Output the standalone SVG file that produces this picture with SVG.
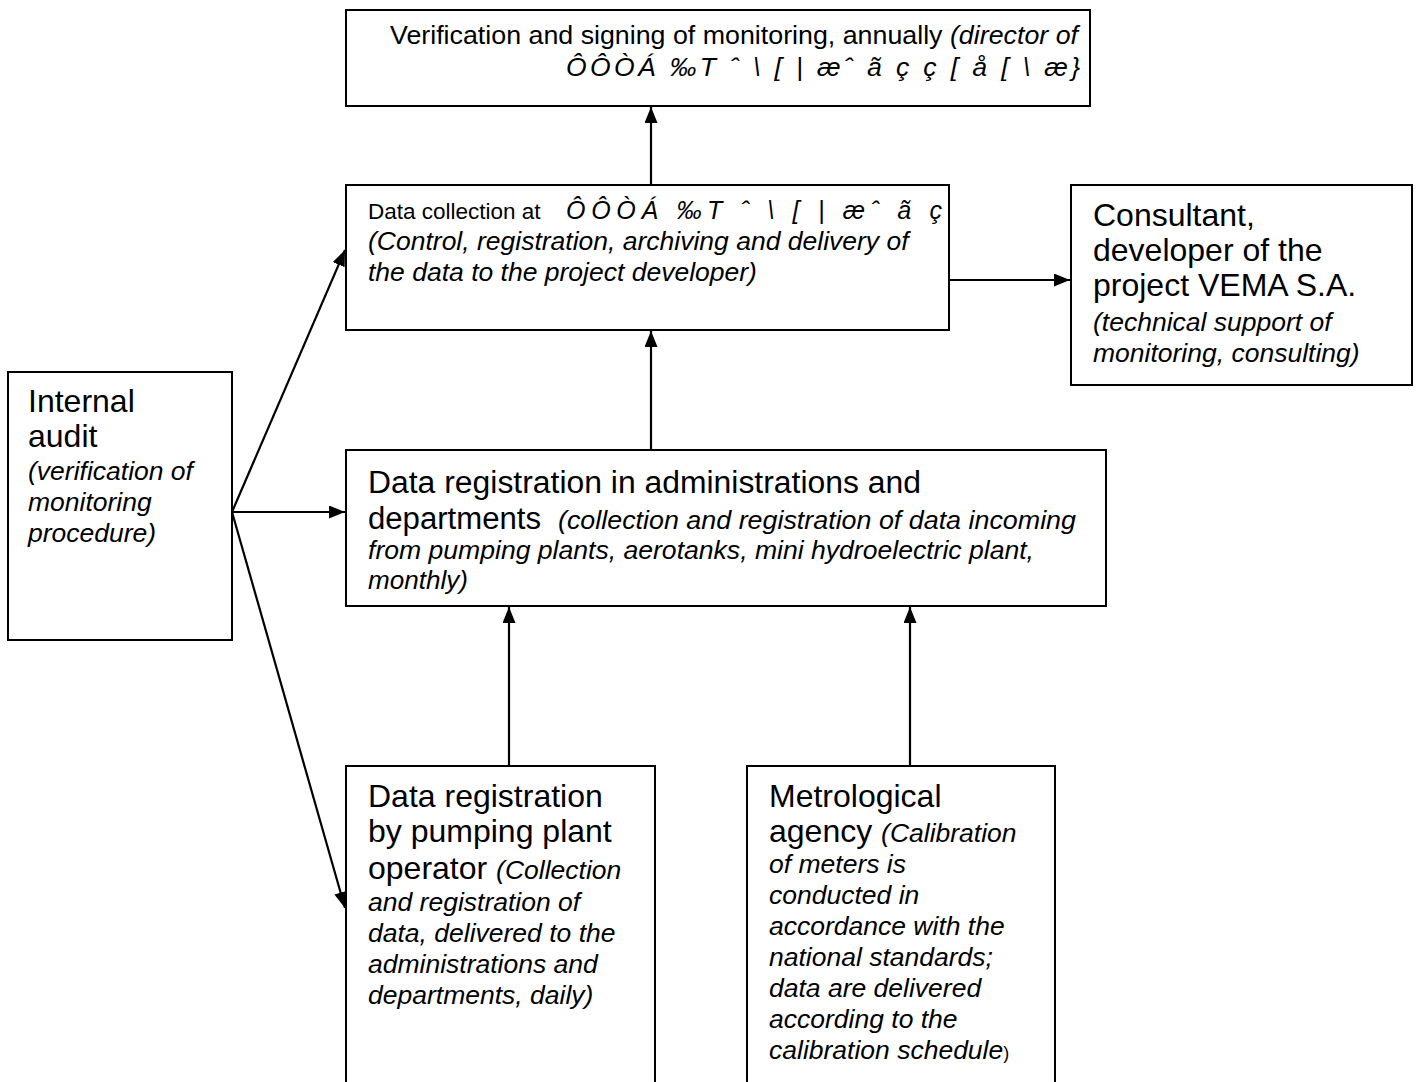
<svg xmlns="http://www.w3.org/2000/svg" width="1417" height="1082" viewBox="0 0 1417 1082">
<style>
.box{fill:#fff;stroke:#000;stroke-width:2}
.t{font-family:"Liberation Sans",Arial,sans-serif;fill:#000}
.n{font-size:26.5px}
.s{font-size:22.5px}
.b{font-size:32px}
.i{font-style:italic}
.c{stroke:#000;stroke-width:2.2;fill:none;marker-end:url(#ah)}
</style>
<defs>
<marker id="ah" viewBox="0 0 16 13" refX="16" refY="6.5" markerWidth="16" markerHeight="13" markerUnits="userSpaceOnUse" orient="auto">
<path d="M0,0 L16,6.5 L0,13 Z" fill="#000"/>
</marker>
</defs>
<rect width="1417" height="1082" fill="#fff"/>
<g id="connectors">
<line class="c" x1="651" y1="185" x2="651" y2="107"/>
<line class="c" x1="651" y1="450" x2="651" y2="331"/>
<line class="c" x1="949" y1="280" x2="1070" y2="280"/>
<line class="c" x1="232" y1="512" x2="345" y2="250"/>
<line class="c" x1="232" y1="512" x2="345" y2="512"/>
<line class="c" x1="232" y1="512" x2="345" y2="908"/>
<line class="c" x1="509" y1="765" x2="509" y2="607"/>
<line class="c" x1="910" y1="765" x2="910" y2="607"/>
</g>
<g id="node-verification">
<rect class="box" x="346" y="10" width="744" height="96"/>
<text class="t n" x="390" y="44" textLength="688" lengthAdjust="spacingAndGlyphs">Verification and signing of monitoring, annually <tspan class="i">(director of</tspan></text>
<text class="t n i" x="566" y="76" textLength="514" lengthAdjust="spacing">ÔÔÒÁ ‰T ˆ \ [ | æˆ ã ç ç [ å [ \ æ}</text>
</g>
<g id="node-data-collection">
<rect class="box" x="346" y="185" width="603" height="145"/>
<text class="t s" x="368" y="219">Data collection at</text>
<text class="t i" font-size="25" x="566" y="219" textLength="376" lengthAdjust="spacing">ÔÔÒÁ ‰T ˆ \ [ | æˆ ã ç</text>
<text class="t n i" x="368" y="250">(Control, registration, archiving and delivery of</text>
<text class="t n i" x="368" y="281">the data to the project developer)</text>
</g>
<g id="node-consultant">
<rect class="box" x="1071" y="185" width="341" height="200"/>
<text class="t b" x="1093" y="226">Consultant,</text>
<text class="t b" x="1093" y="261">developer of the</text>
<text class="t b" x="1093" y="296">project VEMA S.A.</text>
<text class="t n i" x="1093" y="331">(technical support of</text>
<text class="t n i" x="1093" y="362">monitoring, consulting)</text>
</g>
<g id="node-internal-audit">
<rect class="box" x="8" y="372" width="224" height="268"/>
<text class="t b" x="28" y="412">Internal</text>
<text class="t b" x="28" y="447">audit</text>
<text class="t n i" x="28" y="480">(verification of</text>
<text class="t n i" x="28" y="511">monitoring</text>
<text class="t n i" x="28" y="542">procedure)</text>
</g>
<g id="node-data-registration">
<rect class="box" x="346" y="450" width="760" height="156"/>
<text class="t" font-size="31" x="368" y="493" textLength="553" lengthAdjust="spacingAndGlyphs">Data registration in administrations and</text>
<text class="t" font-size="31" x="368" y="529" textLength="173" lengthAdjust="spacingAndGlyphs">departments</text>
<text class="t n i" x="558" y="529" textLength="518" lengthAdjust="spacingAndGlyphs">(collection and registration of data incoming</text>
<text class="t n i" x="368" y="559" textLength="666" lengthAdjust="spacingAndGlyphs">from pumping plants, aerotanks, mini hydroelectric plant,</text>
<text class="t n i" x="368" y="589" textLength="100" lengthAdjust="spacingAndGlyphs">monthly)</text>
</g>
<g id="node-pumping-operator">
<path class="box" d="M346,1083 V766 H655 V1083"/>
<text class="t b" x="368" y="807">Data registration</text>
<text class="t b" x="368" y="842">by pumping plant</text>
<text class="t b" x="368" y="879">operator <tspan class="n i">(Collection</tspan></text>
<text class="t n i" x="368" y="911">and registration of</text>
<text class="t n i" x="368" y="942">data, delivered to the</text>
<text class="t n i" x="368" y="973">administrations and</text>
<text class="t n i" x="368" y="1004">departments, daily)</text>
</g>
<g id="node-metrological">
<path class="box" d="M747,1083 V766 H1055 V1083"/>
<text class="t b" x="769" y="807">Metrological</text>
<text class="t b" x="769" y="842">agency <tspan class="n i">(Calibration</tspan></text>
<text class="t n i" x="769" y="873">of meters is</text>
<text class="t n i" x="769" y="904">conducted in</text>
<text class="t n i" x="769" y="935">accordance with the</text>
<text class="t n i" x="769" y="966">national standards;</text>
<text class="t n i" x="769" y="997">data are delivered</text>
<text class="t n i" x="769" y="1028">according to the</text>
<text class="t n i" x="769" y="1059">calibration schedule<tspan font-style="normal" font-size="18">)</tspan></text>
</g>
</svg>
